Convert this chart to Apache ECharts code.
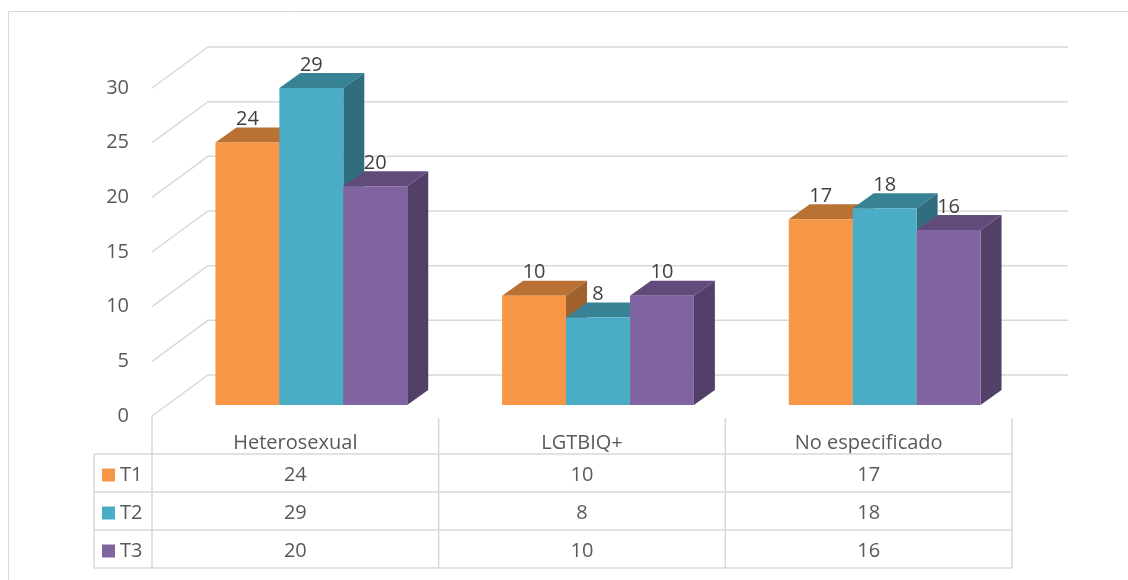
<!DOCTYPE html>
<html>
<head>
<meta charset="utf-8">
<script src="https://cdn.jsdelivr.net/npm/echarts@6/dist/echarts.min.js"></script>
<style>
    html, body { margin: 0; background: #fff; }
    #chart { width: 1128px; height: 580px; }
</style>
</head>
<body>
<div id="chart"></div>
<script>
const categories = ['Heterosexual', 'LGTBIQ+', 'No especificado']
const seriesNames = ['T1', 'T2', 'T3']
const t1 = [24, 10, 17]
const t2 = [29, 8, 18]
const t3 = [20, 10, 16]
const yTicks = [0, 5, 10, 15, 20, 25, 30]

const values = [t1, t2, t3]
const FONT = 'Open Sans'
const colors = [
    { front: '#F79646', top: '#B97134', side: '#A0612C' },
    { front: '#4BACC6', top: '#388296', side: '#306E7F' },
    { front: '#8064A2', top: '#614B7B', side: '#524068' },
]
// pseudo 3d offsets (px)
const WALL = [56, -41]
const BAR_OFF = [16, -11]
const BAR_DEPTH = [21, -15]
const ROW_H = 38
const LINE = '#D9D9D9'

const barItem = (k) => (params, api) => {
    const i = api.value(0), v = api.value(1)
    const base = api.coord([i, 0])
    const topPt = api.coord([i, v])
    const w = api.size([1, 0])[0] * 0.223
    const x0 = base[0] + BAR_OFF[0] + (k - 1.5) * w
    const yb = base[1] + BAR_OFF[1]
    const yt = topPt[1] + BAR_OFF[1]
    const dx = BAR_DEPTH[0], dy = BAR_DEPTH[1]
    const c = colors[k]
    return {
        type: 'group',
        children: [
            { type: 'polygon', shape: { points: [[x0, yt], [x0 + w, yt], [x0 + w + dx, yt + dy], [x0 + dx, yt + dy]] }, style: { fill: c.top } },
            { type: 'polygon', shape: { points: [[x0 + w, yt], [x0 + w + dx, yt + dy], [x0 + w + dx, yb + dy], [x0 + w, yb]] }, style: { fill: c.side } },
            { type: 'rect', shape: { x: x0, y: yt, width: w, height: yb - yt }, style: { fill: c.front } },
            {
                type: 'text', z2: 10, x: x0 + w / 2, y: yt - 23,
                style: { text: String(v), fontSize: 20, fontFamily: FONT, fill: '#404040', align: 'center', verticalAlign: 'middle' }
            }
        ]
    }
}

const wallItem = (params, api) => {
    const y = api.coord([0, api.value(1)])[1]
    const left = params.coordSys.x
    const right = left + params.coordSys.width
    return {
        type: 'polyline',
        shape: { points: [[left, y], [left + WALL[0], y + WALL[1]], [right + WALL[0], y + WALL[1]]] },
        style: { stroke: LINE, lineWidth: 1.5, fill: null }
    }
}

const tableItem = (params, api) => {
    const i = api.value(0)
    const base = api.coord([i, 0])
    const cw = api.size([1, 0])[0]
    const left = base[0] - cw / 2, right = base[0] + cw / 2
    const y0 = base[1]
    const ln = (pts) => ({ type: 'polyline', shape: { points: pts }, style: { stroke: LINE, lineWidth: 1.5, fill: null } })
    const children = []
    values.forEach((arr, r) => {
        children.push({
            type: 'text', x: base[0], y: y0 + ROW_H * (r + 1.5) + 2,
            style: { text: String(arr[i]), fontSize: 20, fontFamily: FONT, fill: '#595959', align: 'center', verticalAlign: 'middle' }
        })
        children.push(ln([[left, y0 + ROW_H * (r + 1)], [right, y0 + ROW_H * (r + 1)]]))
    })
    children.push(ln([[left, y0 + ROW_H * 4], [right, y0 + ROW_H * 4]]))
    children.push(ln([[right, y0 + 2], [right, y0 + ROW_H * 4]]))
    if (i === 0) {
        const legLeft = left - 58
        children.push(ln([[left, y0], [left, y0 + ROW_H * 4]]))
        children.push(ln([[legLeft, y0 + ROW_H], [legLeft, y0 + ROW_H * 4]]))
        for (let r = 1; r <= 4; r++) {
            children.push(ln([[legLeft, y0 + ROW_H * r], [left, y0 + ROW_H * r]]))
        }
    }
    return { type: 'group', children }
}

const options = {
    animation: false,
    grid: { left: 152, right: 116, top: 88, bottom: 164 },
    legend: {
        data: seriesNames,
        orient: 'vertical',
        left: 102,
        top: 465,
        padding: 0,
        itemWidth: 13,
        itemHeight: 13,
        itemGap: 18,
        icon: 'rect',
        selectedMode: false,
        textStyle: { fontSize: 20, fontFamily: FONT, color: '#595959' }
    },
    graphic: [
        { type: 'rect', shape: { x: 8.5, y: 11.5, width: 1200, height: 700 }, style: { fill: null, stroke: LINE, lineWidth: 1 } }
    ],
    xAxis: {
        type: 'category',
        data: categories,
        axisLine: { show: false },
        axisTick: { show: false },
        axisLabel: { margin: 17, fontSize: 20, fontFamily: FONT, color: '#595959' }
    },
    yAxis: {
        type: 'value',
        min: 0,
        max: 30,
        interval: 5,
        axisLine: { show: false },
        axisTick: { show: false },
        splitLine: { show: false },
        axisLabel: { margin: 23, padding: [5, 0, 0, 0], fontSize: 20, fontFamily: FONT, color: '#595959' }
    },
    series: [
        { type: 'custom', name: 'wall', z: 1, renderItem: wallItem, data: yTicks.map(v => [0, v]), encode: { x: 0, y: 1 }, silent: true },
        { type: 'custom', name: 'table', z: 1, renderItem: tableItem, data: categories.map((c, i) => [i, 0]), encode: { x: 0, y: 1 }, silent: true },
        ...seriesNames.map((name, k) => ({
            type: 'custom',
            name,
            z: 2,
            itemStyle: { color: colors[k].front },
            renderItem: barItem(k),
            data: values[k].map((v, i) => [i, v]),
            encode: { x: 0, y: 1 }
        }))
    ]
}

const chart = echarts.init(document.getElementById('chart'))
chart.setOption(options)
window.addEventListener('resize', function () {
    chart && chart.resize()
})
</script>
</body>
</html>
